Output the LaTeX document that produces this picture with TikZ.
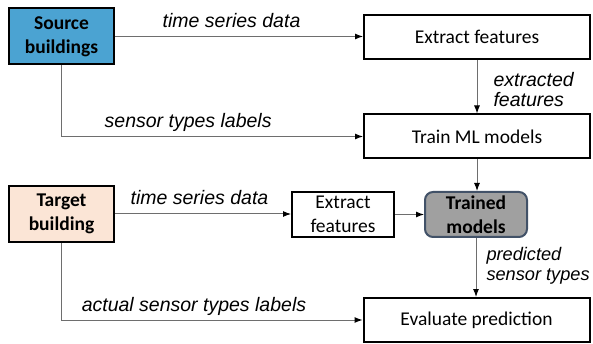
\documentclass[tikz,border=0pt]{standalone}
\usepackage{fontspec}
\setmainfont{Carlito}
\newfontfamily\labelfont{Liberation Sans}
\usetikzlibrary{arrows.meta}
\definecolor{srcblue}{RGB}{75,163,210}
\definecolor{tgtpeach}{RGB}{251,229,214}
\definecolor{modelgray}{RGB}{160,160,160}
\definecolor{modelborder}{RGB}{66,82,104}
\definecolor{linegray}{RGB}{110,110,110}

\begin{document}
\begin{tikzpicture}[x=1pt,y=-1pt,
    box/.style={draw=black, line width=2pt, minimum width=226pt, minimum height=44pt, inner sep=0pt, align=center, font=\fontsize{19.5}{24}\selectfont},
    smallbox/.style={box, minimum width=102pt, minimum height=45pt},
    building/.style={box, minimum width=105pt, minimum height=56pt, font=\fontsize{19.5}{24}\selectfont\bfseries},
    flow/.style={draw=linegray, line width=1pt, -{Latex[length=8pt,width=6pt,black]}},
    lbl/.style={font=\labelfont\itshape\fontsize{19.5}{20}\selectfont, anchor=base, inner sep=0pt}]
    \useasboundingbox (0,0) rectangle (593,344);

    % Source side
    \node[building, fill=srcblue] (src) at (61.5,36.5) {Source\\buildings};
    \node[box] (extract) at (477,37) {Extract features};
    \node[box] (train) at (477,136.5) {Train ML models};

    % Target side
    \node[building, fill=tgtpeach] (tgt) at (61.5,214) {Target\\building};
    \node[smallbox] (extract2) at (343,214.5) {Extract\\features};
    \node[smallbox, draw=modelborder, fill=modelgray, rounded corners=8pt,
        font=\fontsize{19.5}{24}\selectfont\bfseries] (model) at (476,214.5) {Trained\\models};
    \node[box] (eval) at (476.5,320) {Evaluate prediction};

    % Connections
    \draw[flow] (src.east) -- node[lbl, pos=.47, yshift=9pt] (ts1) {time series data} (src.east -| extract.west);
    \draw[flow] (extract) -- node[lbl, anchor=west, align=left, xshift=16pt, yshift=-3pt] (feat) {extracted\\features} (train);
    \draw[flow] (src.south) |- node[lbl, pos=.71, yshift=9pt] (stl) {sensor types labels} (train.west);
    \draw[flow] (train.south) -- (train.south |- model.north);
    \draw[flow] (tgt.east) -- node[lbl, pos=.48, yshift=9pt] (ts2) {time series data} (tgt.east -| extract2.west);
    \draw[flow] (extract2) -- (model);
    \draw[flow] (model) -- node[lbl, anchor=west, align=left, xshift=10pt, yshift=2pt,
        font=\labelfont\itshape\fontsize{18.2}{20}\selectfont] (pst) {predicted\\sensor types} (model |- eval.north);
    \draw[flow] (tgt.south) |- node[lbl, pos=.72, yshift=9pt] (astl) {actual sensor types labels} (eval.west);
\end{tikzpicture}
\end{document}
